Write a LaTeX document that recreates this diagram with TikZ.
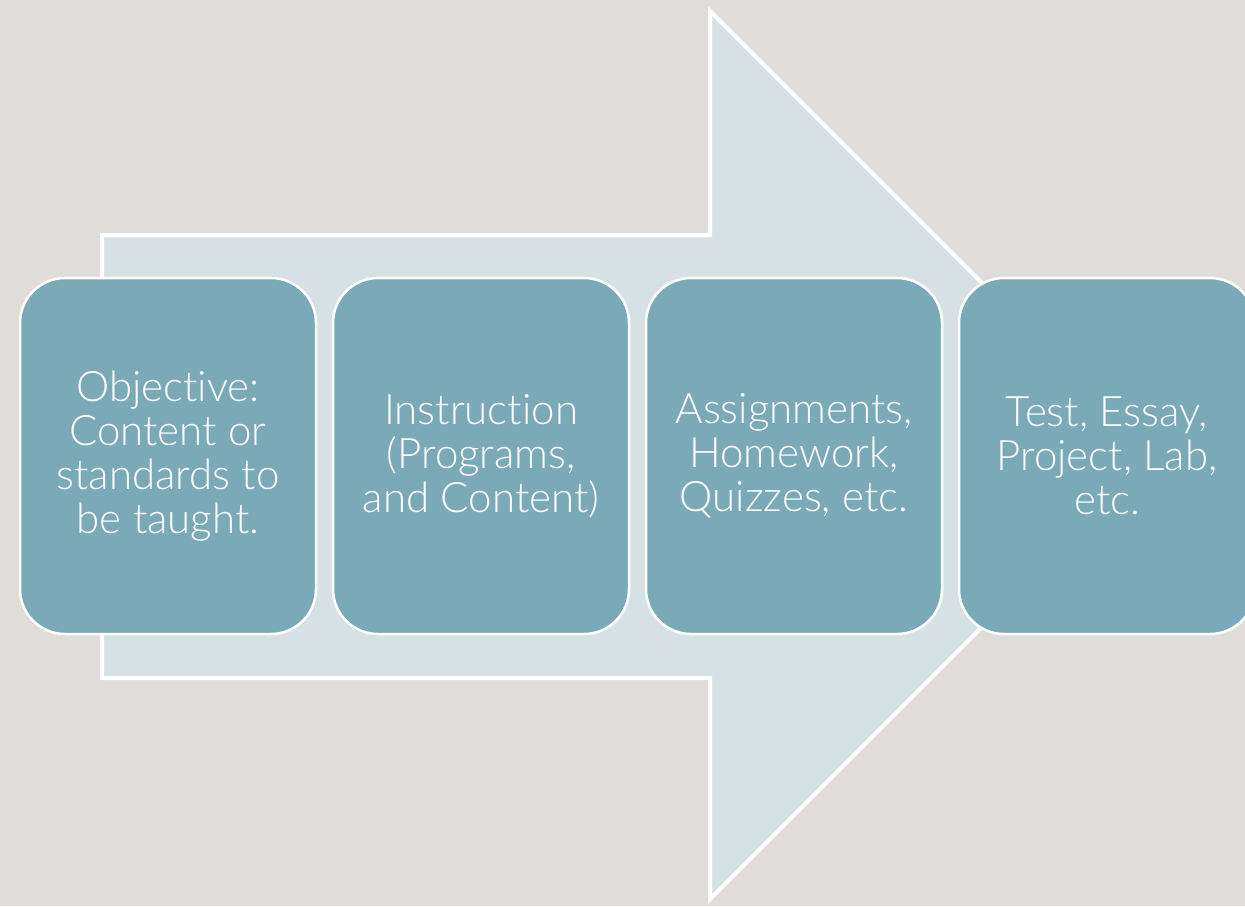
\documentclass[tikz,border=0pt]{standalone}
\usepackage{fontspec}
\setmainfont{Lato Light}[Ligatures=NoCommon]
\usetikzlibrary{positioning}
\definecolor{pagebg}{HTML}{E0DCD9}
\definecolor{arrowfill}{HTML}{D6E1E6}
\definecolor{stagefill}{HTML}{7AAAB8}

\begin{document}
\begin{tikzpicture}[x=1pt, y=-1pt,
  stage/.style={draw=white, line width=2.5pt, rounded corners=45pt, fill=stagefill, minimum width=296pt, minimum height=356pt, align=center, text=white, font=\fontsize{42}{44}\selectfont, inner sep=0pt, outer sep=0pt},
  flow/.style={draw=white, line width=4pt, fill=arrowfill, line join=miter},
]
  \fill[pagebg] (0,0) rectangle (1245,906);
  \useasboundingbox (0,0) rectangle (1245,906);
  % big arrow behind the row of stages
  \draw[flow] (102,235) -- (710,235) -- (710,11) -- (1154,455) -- (710,899) -- (710,678) -- (102,678) -- cycle;

  \node[stage] (objective) at (168,456) {Objective:\\Content or\\standards to\\be taught.};
  \node[stage, right=17pt of objective] (instruction) {Instruction\\(Programs,\\and Content)};
  \node[stage, right=17pt of instruction] (assignments) {Assignments,\\Homework,\\Quizzes, etc.};
  \node[stage, right=17pt of assignments] (test) {Test, Essay,\\Project, Lab,\\etc.};
\end{tikzpicture}
\end{document}
